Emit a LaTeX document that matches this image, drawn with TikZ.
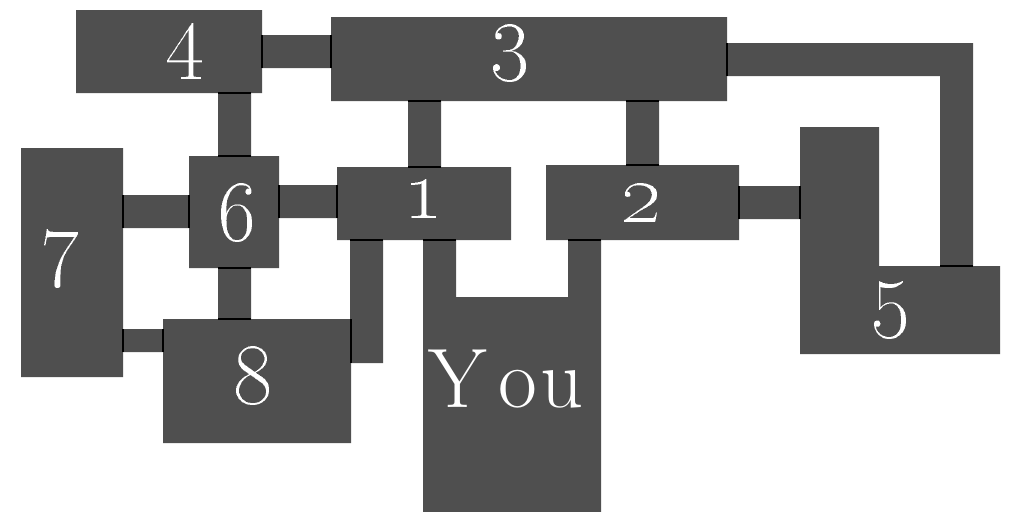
\documentclass[tikz,border=0pt]{standalone}
\usepackage{tikz}
\usepackage{xcolor}
\definecolor{roomgray}{RGB}{79,79,79}

\begin{document}
\begin{tikzpicture}[x=0.01cm,y=-0.01cm,
  room/.style={fill=roomgray},
  door/.style={draw=black,line width=0.35pt},
  roomlabel/.style={text=white,anchor=base,inner sep=0pt,font=\fontsize{24}{28}\selectfont}]
\useasboundingbox (0,0) rectangle (1024,512);
\fill[room] (76,10) rectangle (262,93) (331,17) rectangle (727,101) (21,148) rectangle (123,377) (189,156) rectangle (279,268) (337,167) rectangle (511,240) (546,165) rectangle (739,240) (163,319) rectangle (351,443);
\fill[room] (800,127) -- (879,127) -- (879,266) -- (1000,266) -- (1000,354) -- (800,354) -- cycle;
\fill[room] (423,240) -- (456,240) -- (456,297) -- (568,297) -- (568,240) -- (601,240) -- (601,512) -- (423,512) -- cycle;
\fill[room] (262,35) rectangle (331,68) (218,93) rectangle (251,156) (408,101) rectangle (441,167) (626,101) rectangle (659,165) (123,195) rectangle (189,228) (279,185) rectangle (337,218) (218,268) rectangle (251,319) (123,329) rectangle (163,352) (350,240) rectangle (383,363) (739,186) rectangle (800,219);
\fill[room] (727,43) -- (973,43) -- (973,266) -- (940,266) -- (940,76) -- (727,76) -- cycle;
\draw[door] (262,35) -- (262,68) (331,35) -- (331,68) (218,93) -- (251,93) (218,156) -- (251,156) (408,101) -- (441,101) (408,167) -- (441,167) (626,101) -- (659,101) (626,165) -- (659,165);
\draw[door] (123,195) -- (123,228) (189,195) -- (189,228) (279,185) -- (279,218) (337,185) -- (337,218) (218,268) -- (251,268) (218,319) -- (251,319) (123,329) -- (123,352) (163,329) -- (163,352);
\draw[door] (350,240) -- (383,240) (351,319) -- (351,363) (739,186) -- (739,219) (800,186) -- (800,219) (727,43) -- (727,76) (940,266) -- (973,266) (423,240) -- (456,240) (568,240) -- (601,240);
\node[roomlabel] (n4) at (185,62) {\oldstylenums{4}};
\node[roomlabel] (n3) at (510,64) {\oldstylenums{3}};
\node[roomlabel] (n6) at (237,240) {\oldstylenums{6}};
\node[roomlabel] (n1) at (423,218) {\oldstylenums{1}};
\node[roomlabel] (n2) at (641,222) {\oldstylenums{2}};
\node[roomlabel] (n7) at (60,269) {\oldstylenums{7}};
\node[roomlabel] (n8) at (253,403) {\oldstylenums{8}};
\node[roomlabel] (n5) at (890,320) {\oldstylenums{5}};
\node[roomlabel] (you) at (506,407) {Y\kern0.14em o\kern0.04em u};
\end{tikzpicture}
\end{document}
